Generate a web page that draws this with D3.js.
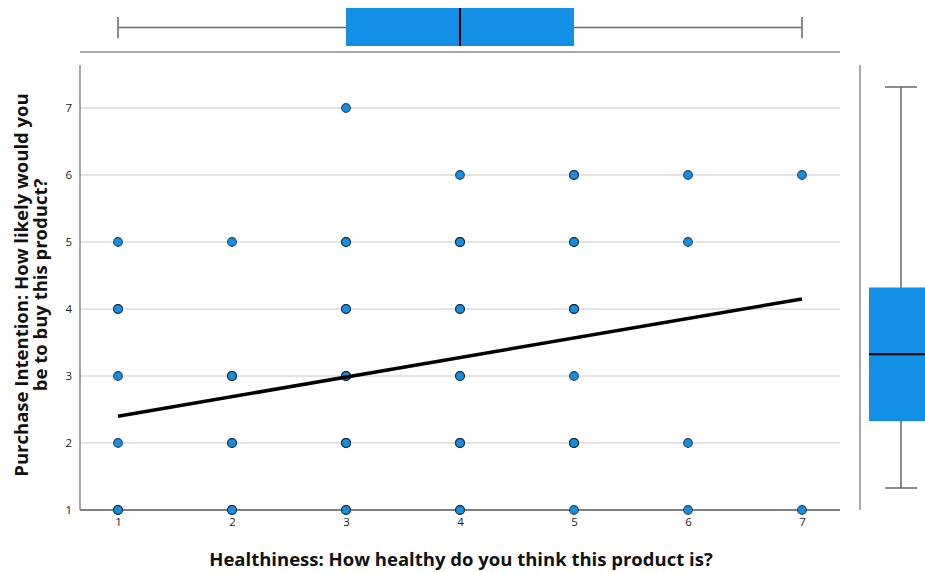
<!DOCTYPE html>
<html>
<head>
<meta charset="utf-8">
<script src="https://cdn.jsdelivr.net/npm/d3@7"></script>
<style>
  html, body { margin: 0; padding: 0; background: #fff; }
  svg { display: block; font-family: "Open Sans", "DejaVu Sans", sans-serif; }
</style>
</head>
<body>
<svg id="chart" width="925" height="572"></svg>
<script>
// Scale values (1-7 Likert)
const tickValues = [1, 2, 3, 4, 5, 6, 7];

// Observed (healthiness, intention) pairs and how many cases share each pair
const healthiness = [1,1,1,1,1, 2,2,2,2, 3,3,3,3,3,3, 4,4,4,4,4,4, 5,5,5,5,5,5, 6,6,6,6, 7,7];
const intention   = [1,2,3,4,5, 1,2,3,5, 1,2,3,4,5,7, 1,2,3,4,5,6, 1,2,3,4,5,6, 1,2,5,6, 1,6];
const caseCount   = [2,1,1,2,1, 2,2,3,1, 2,3,3,2,2,1, 2,3,2,2,3,1, 1,3,1,3,2,2, 1,1,1,1, 1,1];

// Fitted linear regression line endpoints
const fitX = [1, 7];
const fitY = [2.40, 4.15];

// Five-number summaries for the marginal boxplots
const healthBox = { min: 1, q1: 3, median: 4, q3: 5, max: 7 };
const intentBox = { min: 1, q1: 2, median: 3, q3: 4, max: 7 };

const xTitle = "Healthiness: How healthy do you think this product is?";
const yTitleLines = ["Purchase Intention: How likely would you", "be to buy this product?"];

const blue = "#1390e6";
const svg = d3.select("#chart");

const x = d3.scaleLinear().domain([1, 7]).range([118, 802]);
const y = d3.scaleLinear().domain([1, 7]).range([510, 108]);
const yBox = d3.scaleLinear().domain([1, 7]).range([488, 87]);

const plotLeft = 80, plotRight = 840, plotTop = 65, plotBottom = 510;

// Horizontal grid lines
svg.append("g")
  .selectAll("line")
  .data(tickValues.filter(v => v > 1))
  .join("line")
  .attr("x1", plotLeft).attr("x2", plotRight)
  .attr("y1", d => y(d)).attr("y2", d => y(d))
  .attr("stroke", "#c8c8c8").attr("stroke-width", 1.2);

// Axes
const xAxis = svg.append("g")
  .attr("transform", `translate(0,${plotBottom})`)
  .call(d3.axisBottom(x).tickValues(tickValues).tickSize(0).tickPadding(8).tickFormat(d3.format("d")));
xAxis.select(".domain").attr("d", `M${plotLeft},0H${plotRight}`).attr("stroke", "#555").attr("stroke-width", 1.3);

const yAxis = svg.append("g")
  .attr("transform", `translate(${plotLeft},0)`)
  .call(d3.axisLeft(y).tickValues(tickValues).tickSize(0).tickPadding(8).tickFormat(d3.format("d")));
yAxis.select(".domain").attr("d", `M0,${plotTop}V${plotBottom}`).attr("stroke", "#777").attr("stroke-width", 1.3);

svg.selectAll(".tick text")
  .attr("font-family", "'Open Sans', sans-serif")
  .attr("font-size", 11.5)
  .attr("fill", "#222");

// Scatter points; repeated cases stack and darken their outlines
const points = [];
healthiness.forEach((h, i) => {
  for (let k = 0; k < caseCount[i]; k++) points.push({ h, v: intention[i] });
});
svg.append("g")
  .selectAll("circle")
  .data(points)
  .join("circle")
  .attr("cx", d => x(d.h))
  .attr("cy", d => y(d.v))
  .attr("r", 4.4)
  .attr("fill", blue)
  .attr("stroke", "#1a1a1a")
  .attr("stroke-opacity", 0.75)
  .attr("stroke-width", 1.1);

// Regression line
svg.append("line")
  .attr("x1", x(fitX[0])).attr("y1", y(fitY[0]))
  .attr("x2", x(fitX[1])).attr("y2", y(fitY[1]))
  .attr("stroke", "#000").attr("stroke-width", 3.5);

// Top marginal boxplot (healthiness)
const topBox = svg.append("g");
topBox.append("line")
  .attr("x1", plotLeft).attr("x2", plotRight).attr("y1", 52).attr("y2", 52)
  .attr("stroke", "#aaa").attr("stroke-width", 2);
topBox.append("line")
  .attr("x1", x(healthBox.min)).attr("x2", x(healthBox.max)).attr("y1", 27.5).attr("y2", 27.5)
  .attr("stroke", "#666").attr("stroke-width", 1.5);
[healthBox.min, healthBox.max].forEach(v => {
  topBox.append("line")
    .attr("x1", x(v)).attr("x2", x(v)).attr("y1", 17).attr("y2", 38)
    .attr("stroke", "#666").attr("stroke-width", 1.5);
});
topBox.append("rect")
  .attr("x", x(healthBox.q1)).attr("y", 8)
  .attr("width", x(healthBox.q3) - x(healthBox.q1)).attr("height", 38)
  .attr("fill", blue);
topBox.append("line")
  .attr("x1", x(healthBox.median)).attr("x2", x(healthBox.median)).attr("y1", 8).attr("y2", 46)
  .attr("stroke", "#000").attr("stroke-width", 2);

// Right marginal boxplot (purchase intention)
const sideBox = svg.append("g");
sideBox.append("line")
  .attr("x1", 860).attr("x2", 860).attr("y1", plotTop).attr("y2", plotBottom)
  .attr("stroke", "#aaa").attr("stroke-width", 2);
sideBox.append("line")
  .attr("x1", 901).attr("x2", 901).attr("y1", yBox(intentBox.max)).attr("y2", yBox(intentBox.min))
  .attr("stroke", "#666").attr("stroke-width", 1.5);
[intentBox.min, intentBox.max].forEach(v => {
  sideBox.append("line")
    .attr("x1", 885).attr("x2", 917).attr("y1", yBox(v)).attr("y2", yBox(v))
    .attr("stroke", "#666").attr("stroke-width", 1.5);
});
sideBox.append("rect")
  .attr("x", 869).attr("y", yBox(intentBox.q3))
  .attr("width", 56).attr("height", yBox(intentBox.q1) - yBox(intentBox.q3))
  .attr("fill", blue);
sideBox.append("line")
  .attr("x1", 869).attr("x2", 925).attr("y1", yBox(intentBox.median)).attr("y2", yBox(intentBox.median))
  .attr("stroke", "#000").attr("stroke-width", 2);

// Axis titles
svg.append("text")
  .attr("x", 461).attr("y", 566)
  .attr("text-anchor", "middle")
  .attr("font-family", "'Open Sans', sans-serif")
  .attr("font-weight", "bold").attr("font-size", 18.5)
  .attr("fill", "#111")
  .text(xTitle);

const yt = svg.append("text")
  .attr("transform", "translate(28,285) rotate(-90)")
  .attr("text-anchor", "middle")
  .attr("font-family", "'Open Sans', sans-serif")
  .attr("font-weight", "bold").attr("font-size", 18.5)
  .attr("fill", "#111");
yTitleLines.forEach((t, i) => {
  yt.append("tspan").attr("x", 0).attr("dy", i === 0 ? 0 : 19).text(t);
});
</script>
</body>
</html>
